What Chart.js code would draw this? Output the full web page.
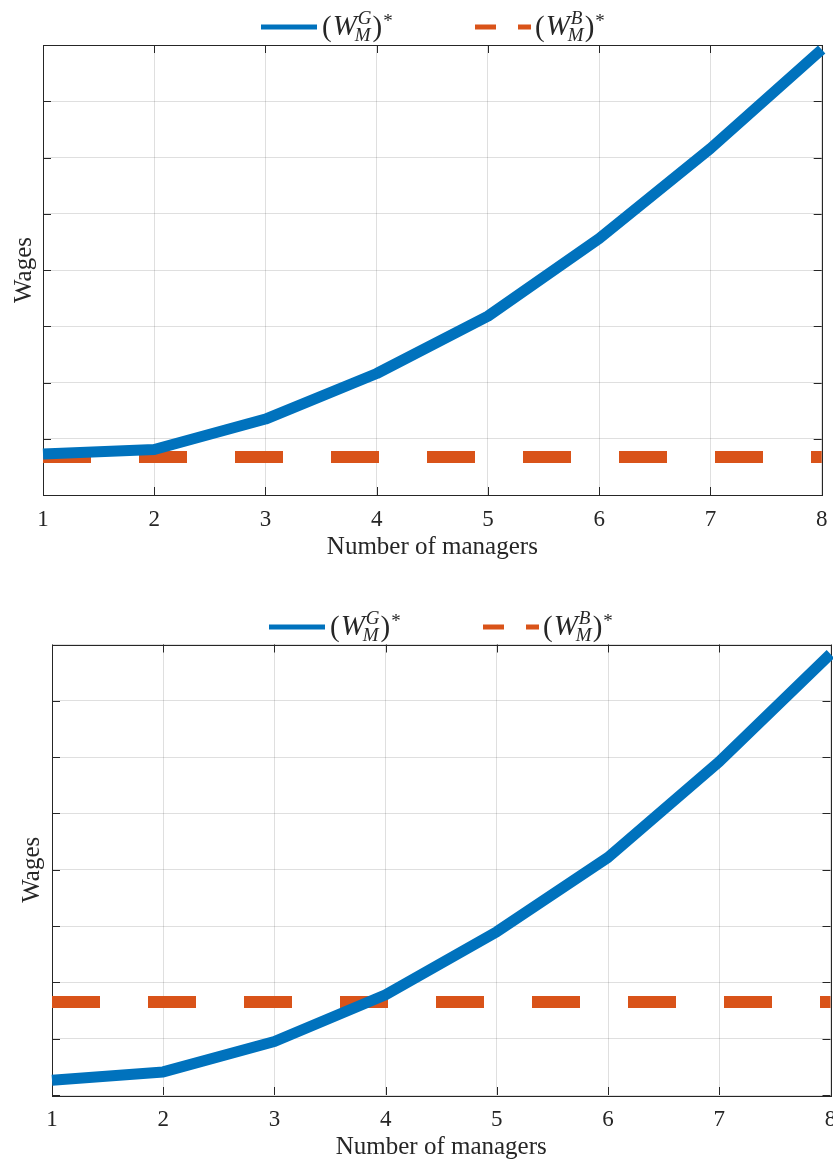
<!DOCTYPE html>
<html>
<head>
<meta charset="utf-8">
<script src="https://cdn.jsdelivr.net/npm/chart.js@4.4.1/dist/chart.umd.min.js"></script>
<style>
    html, body { margin: 0; padding: 0; background: #ffffff; }
    canvas { position: absolute; left: 0; }
    #wagesTop { top: 0; }
    #wagesBottom { top: 600px; }
</style>
</head>
<body>
<canvas id="wagesTop" width="833" height="562"></canvas>
<canvas id="wagesBottom" width="833" height="562"></canvas>
<script>
(() => {
    'use strict';

    const managers = [1, 2, 3, 4, 5, 6, 7, 8];
    const managerTicks = ['1', '2', '3', '4', '5', '6', '7', '8'];

    // upper panel
    const topGoodWage = [0.73, 0.81, 1.35, 2.16, 3.18, 4.56, 6.16, 7.92];
    const topBadWage = [0.675, 0.675, 0.675, 0.675, 0.675, 0.675, 0.675, 0.675];

    // lower panel
    const bottomGoodWage = [0.26, 0.41, 0.95, 1.78, 2.90, 4.22, 5.92, 7.83];
    const bottomBadWage = [1.65, 1.65, 1.65, 1.65, 1.65, 1.65, 1.65, 1.65];

    const BLUE = '#0072BD';
    const ORANGE = '#D95319';
    const AXIS = '#262626';
    const SERIF = '"Liberation Serif", "Times New Roman", serif';

    const axesBox = {
        id: 'axesBox',
        beforeDatasetsDraw(chart) {
            const { ctx, chartArea: a, scales: { x, y } } = chart;
            const len = 8;
            ctx.save();
            ctx.strokeStyle = AXIS;
            ctx.lineWidth = 1;
            ctx.beginPath();
            x.ticks.forEach((t) => {
                const px = Math.round(x.getPixelForValue(t.value)) + 0.5;
                ctx.moveTo(px, a.bottom);
                ctx.lineTo(px, a.bottom - len);
                ctx.moveTo(px, a.top);
                ctx.lineTo(px, a.top + len);
            });
            y.ticks.forEach((t) => {
                const py = Math.round(y.getPixelForValue(t.value)) + 0.5;
                ctx.moveTo(a.left, py);
                ctx.lineTo(a.left + len, py);
                ctx.moveTo(a.right, py);
                ctx.lineTo(a.right - len, py);
            });
            ctx.stroke();
            ctx.strokeRect(Math.round(a.left) + 0.5, Math.round(a.top) + 0.5,
                Math.round(a.right - a.left), Math.round(a.bottom - a.top));
            ctx.restore();
        },
    };

    // legend with the (W_M^G)* style labels
    const drawMath = (ctx, x, base, sup) => {
        ctx.fillStyle = AXIS;
        ctx.textBaseline = 'alphabetic';
        ctx.textAlign = 'left';
        ctx.font = `29px ${SERIF}`;
        ctx.fillText('(', x, base + 1);
        x += ctx.measureText('(').width + 1;
        ctx.font = `italic 29px ${SERIF}`;
        ctx.fillText('W', x, base);
        x += ctx.measureText('W').width;
        ctx.font = `italic 19px ${SERIF}`;
        ctx.fillText(sup, x + 1, base - 11);
        const supW = ctx.measureText(sup).width + 1;
        ctx.fillText('M', x - 2, base + 6);
        const subW = ctx.measureText('M').width - 2;
        x += Math.max(supW, subW) + 1;
        ctx.font = `29px ${SERIF}`;
        ctx.fillText(')', x, base + 1);
        x += ctx.measureText(')').width + 1;
        ctx.font = `19px ${SERIF}`;
        ctx.fillText('*', x, base - 8);
    };

    const mathLegend = {
        id: 'mathLegend',
        afterDraw(chart) {
            const shift = chart.options.plugins.mathLegend.shift;
            const ctx = chart.ctx;
            const y = 27;
            ctx.save();
            ctx.lineCap = 'butt';
            ctx.lineWidth = 5;
            ctx.strokeStyle = BLUE;
            ctx.beginPath();
            ctx.moveTo(261 + shift, y);
            ctx.lineTo(317 + shift, y);
            ctx.stroke();
            drawMath(ctx, 322 + shift, 35, 'G');

            ctx.strokeStyle = ORANGE;
            ctx.setLineDash([21, 22]);
            ctx.beginPath();
            ctx.moveTo(475 + shift, y);
            ctx.lineTo(531 + shift, y);
            ctx.stroke();
            ctx.setLineDash([]);
            drawMath(ctx, 535 + shift, 35, 'B');
            ctx.restore();
        },
    };

    const build = (canvasId, good, bad, frame) => {
        const points = (values) => managers.map((m, i) => ({ x: m, y: values[i] }));

        return new Chart(document.getElementById(canvasId), {
            type: 'line',
            data: {
                datasets: [{
                    data: points(good),
                    borderColor: BLUE,
                    borderWidth: 11,
                    borderJoinStyle: 'round',
                    pointRadius: 0,
                    tension: 0,
                    clip: false,
                }, {
                    data: points(bad),
                    borderColor: ORANGE,
                    borderWidth: 12,
                    borderDash: [48, 48],
                    borderCapStyle: 'butt',
                    pointRadius: 0,
                    tension: 0,
                    clip: false,
                }],
            },
            plugins: [axesBox, mathLegend],
            options: {
                responsive: false,
                animation: false,
                events: [],
                layout: {
                    padding: { left: 0, right: frame.right, top: frame.top, bottom: 0 },
                },
                scales: {
                    x: {
                        type: 'linear',
                        min: 1,
                        max: 8,
                        afterFit: (scale) => {
                            scale.height = 67;
                            scale.paddingLeft = 0;
                            scale.paddingRight = 0;
                        },
                        border: { display: false },
                        grid: { color: 'rgba(38,38,38,0.15)', drawTicks: false },
                        ticks: {
                            stepSize: 1,
                            padding: 11,
                            color: AXIS,
                            maxRotation: 0,
                            font: { family: SERIF, size: 23 },
                            callback: (value) => managerTicks[managers.indexOf(value)],
                        },
                        title: {
                            display: true,
                            text: 'Number of managers',
                            color: AXIS,
                            font: { family: SERIF, size: 25 },
                            padding: { top: 0, bottom: 0 },
                        },
                    },
                    y: {
                        min: 0,
                        max: 8,
                        afterFit: (scale) => {
                            scale.width = frame.left;
                        },
                        border: { display: false },
                        grid: { color: 'rgba(38,38,38,0.15)', drawTicks: false },
                        ticks: { stepSize: 1, display: false },
                        title: {
                            display: true,
                            text: 'Wages',
                            color: AXIS,
                            font: { family: SERIF, size: 25 },
                            padding: { top: frame.titlePad, bottom: 0 },
                        },
                    },
                },
                plugins: {
                    legend: { display: false },
                    tooltip: { enabled: false },
                    mathLegend: { shift: frame.shift },
                },
            },
        });
    };

    build('wagesTop', topGoodWage, topBadWage,
        { left: 43, right: 11.3, top: 45, titlePad: 9, shift: 0 });
    build('wagesBottom', bottomGoodWage, bottomBadWage,
        { left: 52, right: 2.5, top: 44.5, titlePad: 17.5, shift: 8 });
})();
</script>
</body>
</html>
